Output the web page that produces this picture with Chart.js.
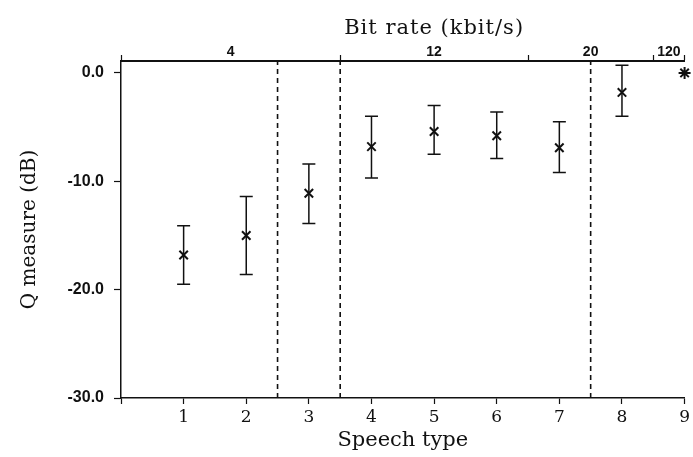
<!DOCTYPE html>
<html>
<head>
<meta charset="utf-8">
<script src="https://cdn.jsdelivr.net/npm/chart.js@4/dist/chart.umd.min.js"></script>
<style>
  html, body { margin: 0; padding: 0; background: #fff; }
  #wrap { width: 693px; height: 457px; }
</style>
</head>
<body>
<div id="wrap"><canvas id="qChart" width="693" height="457"></canvas></div>
<script>
// Q measure per speech type (mean and error-bar limits, dB)
const speechTypes = [1, 2, 3, 4, 5, 6, 7, 8, 9];
const qMean = [-16.8, -15.0, -11.1, -6.8, -5.4, -5.8, -6.9, -1.8, 0.0];
const qLow = [-19.5, -18.6, -13.9, -9.7, -7.5, -7.9, -9.2, -4.0, null];
const qHigh = [-14.1, -11.4, -8.4, -4.0, -3.0, -3.6, -4.5, 0.7, null];

// bit rate bands along the top axis
const bitRateLabels = ["4", "12", "20", "120"];
const bitRateEdges = [0, 3.5, 6.5, 8.5, 9];
const dividers = [2.5, 3.5, 7.5];

const yTicks = [-30, -20, -10, 0];
const xTicks = [0, 1, 2, 3, 4, 5, 6, 7, 8, 9];

const Y_MIN = -30, Y_MAX = 1.1;
const ink = "#111";
const serif = "'DejaVu Serif', serif";
const sans = "'Liberation Sans', Arial, sans-serif";

// label positions = middle of each bit-rate band
const bandMids = bitRateLabels.map((_, i) => (bitRateEdges[i] + bitRateEdges[i + 1]) / 2);
const topTicks = bitRateEdges.concat(bandMids).sort((a, b) => a - b);

const errorBars = {
  id: "errorBars",
  afterDatasetsDraw(chart) {
    const { ctx, scales: { x, y } } = chart;
    ctx.save();
    ctx.strokeStyle = ink;
    ctx.lineWidth = 1.5;
    speechTypes.forEach((t, i) => {
      if (qLow[i] == null) return;
      const px = x.getPixelForValue(t);
      const lo = y.getPixelForValue(qLow[i]);
      const hi = y.getPixelForValue(qHigh[i]);
      ctx.beginPath();
      ctx.moveTo(px, lo); ctx.lineTo(px, hi);
      ctx.moveTo(px - 6.5, lo); ctx.lineTo(px + 6.5, lo);
      ctx.moveTo(px - 6.5, hi); ctx.lineTo(px + 6.5, hi);
      ctx.stroke();
    });
    // top axis title sits over the middle band label
    const x2 = chart.scales.x2;
    ctx.fillStyle = ink;
    ctx.font = "21px " + serif;
    ctx.letterSpacing = "1px";
    ctx.textAlign = "center";
    ctx.textBaseline = "middle";
    ctx.fillText("Bit rate (kbit/s)", x2.getPixelForValue(bandMids[1]), 29);
    ctx.restore();
  }
};

const dividerSets = dividers.map(d => ({
  type: "line",
  data: [{ x: d, y: Y_MIN }, { x: d, y: Y_MAX }],
  borderColor: ink,
  borderWidth: 1.6,
  borderDash: [5, 4],
  pointRadius: 0,
  xAxisID: "x",
  yAxisID: "y"
}));

new Chart(document.getElementById("qChart"), {
  type: "scatter",
  data: {
    datasets: [
      {
        data: speechTypes.map((t, i) => ({ x: t, y: qMean[i] })),
        pointStyle: speechTypes.map((t, i) => (qLow[i] == null ? "star" : "crossRot")),
        pointRadius: 6,
        pointHoverRadius: 6,
        borderColor: ink,
        backgroundColor: ink,
        borderWidth: 2,
        clip: false
      },
      ...dividerSets
    ]
  },
  options: {
    responsive: false,
    animation: false,
    layout: { padding: { right: 6 } },
    plugins: { legend: { display: false }, tooltip: { enabled: false } },
    scales: {
      x: {
        type: "linear",
        position: "bottom",
        min: 0,
        max: 9,
        afterBuildTicks: s => { s.ticks = xTicks.map(v => ({ value: v })); },
        afterFit: s => { s.height = 59; },
        grid: { drawOnChartArea: false, tickLength: 6, tickColor: ink, tickWidth: 1.2 },
        border: { color: ink, width: 1.5 },
        ticks: {
          autoSkip: false,
          maxRotation: 0,
          padding: 3,
          color: ink,
          font: { family: serif, size: 17 },
          callback: v => (v === 0 ? "" : String(v))
        },
        title: {
          display: true,
          text: "Speech type",
          color: ink,
          font: { family: serif, size: 21 },
          padding: { top: 0, bottom: 4 }
        }
      },
      x2: {
        type: "linear",
        position: "top",
        min: 0,
        max: 9,
        afterBuildTicks: s => { s.ticks = topTicks.map(v => ({ value: v })); },
        afterFit: s => { s.height = 61; },
        grid: {
          drawOnChartArea: false,
          tickLength: 6,
          tickWidth: 1.2,
          tickColor: c => (bitRateEdges.includes(c.tick && c.tick.value) ? ink : "rgba(0,0,0,0)")
        },
        border: { color: ink, width: 2 },
        ticks: {
          autoSkip: false,
          maxRotation: 0,
          padding: -6,
          color: ink,
          font: { family: sans, size: 14, weight: "bold" },
          callback: v => {
            const k = bandMids.indexOf(v);
            return k < 0 ? "" : bitRateLabels[k];
          }
        }
      },
      y: {
        type: "linear",
        min: Y_MIN,
        max: Y_MAX,
        afterBuildTicks: s => { s.ticks = yTicks.map(v => ({ value: v })); },
        afterFit: s => { s.width = 121; },
        grid: { drawOnChartArea: false, tickLength: 7, tickColor: ink, tickWidth: 1.2 },
        border: { color: ink, width: 1.5 },
        ticks: {
          padding: 10,
          color: ink,
          font: { family: sans, size: 16, weight: "bold" },
          callback: v => v.toFixed(1)
        },
        title: {
          display: true,
          text: "Q measure (dB)",
          color: ink,
          font: { family: serif, size: 20 },
          padding: { top: 18, bottom: 0 }
        }
      }
    }
  },
  plugins: [errorBars]
});
</script>
</body>
</html>
